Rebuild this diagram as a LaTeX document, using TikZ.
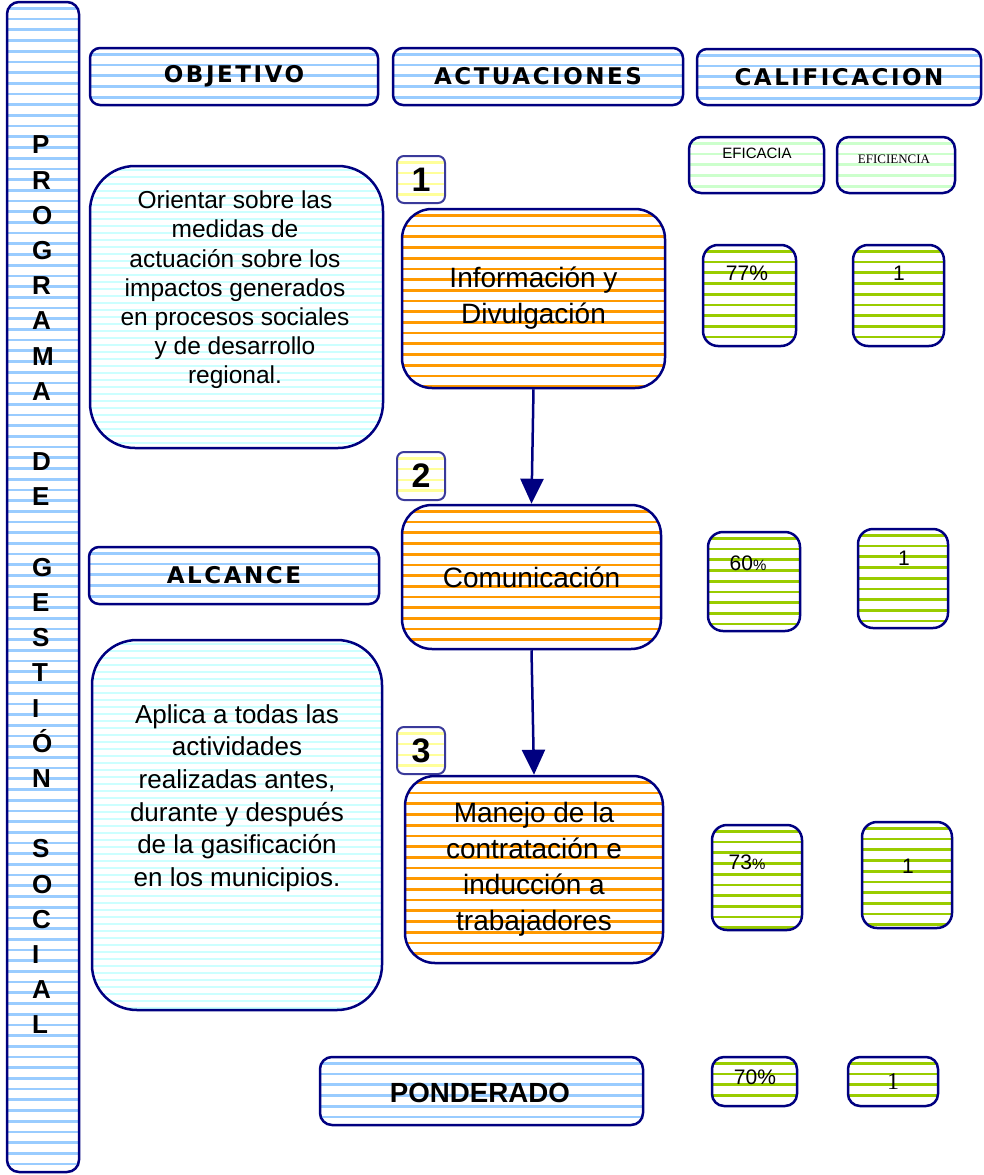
\documentclass[tikz,border=0pt]{standalone}
\usepackage{fontspec}
\setmainfont{Liberation Sans}
\newfontfamily\headfont[LetterSpace=11]{DejaVu Sans}
\newfontfamily\serifnum{Liberation Serif}
\usetikzlibrary{arrows.meta}

\definecolor{navyline}{HTML}{000080}
\definecolor{numline}{HTML}{3A3A9A}
\definecolor{lblue}{HTML}{99CCFF}
\definecolor{lcyan}{HTML}{CCFFFF}
\definecolor{orangeS}{HTML}{FF9900}
\definecolor{greenS}{HTML}{99CC00}
\definecolor{lgreen}{HTML}{CCFFCC}
\definecolor{lyellow}{HTML}{FFFF99}

\tikzset{
  % horizontal stripes: colour, spacing, thickness
  stripes/.style n args={3}{path picture={%
    \foreach \k in {0,...,115}{%
      \draw[draw=#1,line width=#3]
        ([yshift={-(\k+0.6)*#2}]path picture bounding box.north west) -- ++(1200pt,0);}}},
  panel/.style={draw=navyline,line width=2.5pt,rounded corners=#1,inner sep=0pt},
  bluepanel/.style={panel=#1,stripes={lblue}{10.7pt}{2.7pt}},
  cyanpanel/.style={panel=#1,stripes={lcyan}{7pt}{2pt}},
  orangepanel/.style={panel=30pt,stripes={orangeS}{10.7pt}{2.7pt}},
  greenpanel/.style={panel=#1,stripes={greenS}{10.7pt}{2.7pt}},
  lgreenpanel/.style={panel=12pt,stripes={lgreen}{10.7pt}{2.7pt}},
  numpanel/.style={draw=numline,line width=2pt,rounded corners=7pt,inner sep=0pt,
    stripes={lyellow}{10.7pt}{2.5pt},font=\fontsize{34}{34}\selectfont\bfseries},
  headtext/.style={font=\headfont\fontsize{23}{24}\selectfont\bfseries},
  bodytext/.style={align=center,inner sep=0pt},
  valtext/.style={inner sep=0pt,font=\fontsize{21}{21}\selectfont},
  flow/.style={draw=navyline,line width=2.5pt,-{Triangle[width=23pt,length=25pt]}},
}

\begin{document}
\begin{tikzpicture}[x=1pt,y=-1pt]
\useasboundingbox (0,0) rectangle (983,1175);
\fill[white] (0,0) rectangle (983,1175);

% side bar with the programme name
\node[bluepanel=12pt,minimum width=72pt,minimum height=1170pt] (bar) at (43,587) {};
\node[anchor=west,align=left,inner sep=0pt,font=\fontsize{26}{35.2}\selectfont\bfseries] (bartext) at (32,585)
  {P\\R\\O\\G\\R\\A\\M\\A\\\mbox{}\\D\\E\\\mbox{}\\G\\E\\S\\T\\I\\Ó\\N\\\mbox{}\\S\\O\\C\\I\\A\\L};

% column headers
\node[bluepanel=10pt,minimum width=288pt,minimum height=57pt,headtext] (objH) at (234,76.5) {OBJETIVO};
\node[bluepanel=10pt,minimum width=290pt,minimum height=57pt,headtext] (actH) at (538,76.5) {ACTUACIONES};
\node[bluepanel=10pt,minimum width=284pt,minimum height=56pt,headtext] (calH) at (839,77) {CALIFICACION};

\node[lgreenpanel,minimum width=135pt,minimum height=56pt] (efiH) at (756.5,165) {};
\node[inner sep=0pt,font=\fontsize{15}{15}\selectfont] (efiT) at (757,153) {EFICACIA};
\node[lgreenpanel,minimum width=118pt,minimum height=56pt] (efnH) at (896,165) {};
\node[inner sep=0pt,font=\serifnum\fontsize{13}{13}\selectfont] (efnT) at (894,159) {EFICIENCIA};

% objective
\node[cyanpanel=45pt,minimum width=293pt,minimum height=282pt] (objB) at (236.5,307) {};
\node[bodytext,font=\fontsize{24.5}{29.2}\selectfont] (objT) at (235,290)
  {Orientar sobre las\\medidas de\\actuación sobre los\\impactos generados\\en procesos sociales\\y de desarrollo\\regional.};

% scope
\node[bluepanel=10pt,minimum width=290pt,minimum height=57pt,headtext] (alcH) at (234,575.5) {ALCANCE};
\node[cyanpanel=45pt,minimum width=290pt,minimum height=370pt] (alcB) at (237,825) {};
\node[bodytext,font=\fontsize{26}{32.6}\selectfont] (alcT) at (237,798)
  {Aplica a todas las\\actividades\\realizadas antes,\\durante y después\\de la gasificación\\en los municipios.};

% actions
\node[numpanel,minimum width=48pt,minimum height=47pt] (n1) at (421,179.5) {1};
\node[numpanel,minimum width=48pt,minimum height=48pt] (n2) at (421,476) {2};
\node[numpanel,minimum width=48pt,minimum height=47pt] (n3) at (421,750.5) {3};

\node[orangepanel,minimum width=263pt,minimum height=179pt,bodytext,font=\fontsize{28}{36}\selectfont] (info) at (533.5,298.5)
  {Información y\\Divulgación};
\node[orangepanel,minimum width=259pt,minimum height=144pt,bodytext,font=\fontsize{28}{36}\selectfont] (comm) at (531.5,577)
  {Comunicación};
\node[orangepanel,minimum width=258pt,minimum height=187pt,bodytext,font=\fontsize{28}{36}\selectfont] (manejo) at (534,869.5)
  {Manejo de la\\contratación e\\inducción a\\trabajadores};

\draw[flow] (info.south) -- (comm.north);
\draw[flow] (comm.south) -- (manejo.north);

% ratings
\node[greenpanel=15pt,minimum width=93pt,minimum height=101pt] (e1) at (749.5,295.5) {};
\node[greenpanel=15pt,minimum width=91pt,minimum height=101pt] (f1) at (898.5,295.5) {};
\node[greenpanel=15pt,minimum width=92pt,minimum height=99pt] (e2) at (754,581.5) {};
\node[greenpanel=15pt,minimum width=90pt,minimum height=99pt] (f2) at (903,578.5) {};
\node[greenpanel=15pt,minimum width=90pt,minimum height=105pt] (e3) at (757,877.5) {};
\node[greenpanel=15pt,minimum width=90pt,minimum height=106pt] (f3) at (907,875) {};

\node[valtext] (e1T) at (747,273) {77\%};
\node[valtext] (f1T) at (899,273) {1};
\node[valtext] (e2T) at (748,563) {60{\fontsize{15}{15}\selectfont\%}};
\node[valtext] (f2T) at (904,558) {1};
\node[valtext] (e3T) at (747,862) {73{\fontsize{15}{15}\selectfont\%}};
\node[valtext] (f3T) at (908,866) {1};

% weighted result
\node[bluepanel=12pt,minimum width=323pt,minimum height=68pt] (pond) at (481.5,1091) {};
\node[inner sep=0pt,font=\fontsize{27.7}{28}\selectfont\bfseries] (pondT) at (480,1093) {PONDERADO};
\node[greenpanel=12pt,minimum width=85pt,minimum height=49pt] (e4) at (754.5,1081.5) {};
\node[greenpanel=12pt,minimum width=90pt,minimum height=49pt] (f4) at (893,1081.5) {};
\node[valtext] (e4T) at (755,1077) {70\%};
\node[inner sep=0pt,font=\serifnum\fontsize{24}{24}\selectfont] (f4T) at (893,1082) {1};

\end{tikzpicture}
\end{document}
